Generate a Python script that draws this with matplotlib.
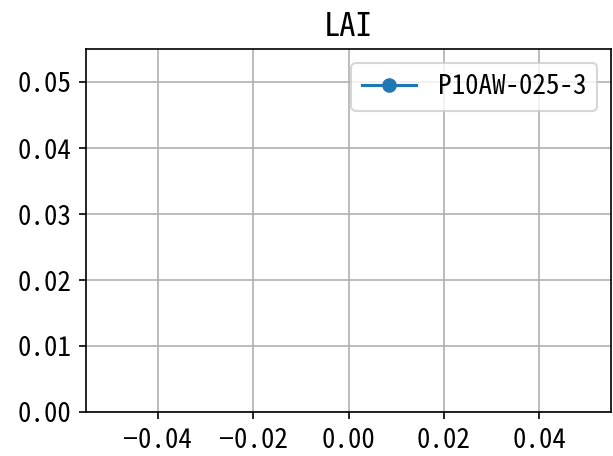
import matplotlib
matplotlib.use('Agg')
import matplotlib.pyplot as plt

plt.rcParams['font.family'] = ['Noto Sans Mono CJK JP', 'DejaVu Sans Mono', 'DejaVu Sans']
plt.rcParams['font.size'] = 13

# no LAI samples for this plot
days = []
lai = []
label = 'P10AW-025-3'

W, H = 613, 456
fig = plt.figure(figsize=(W / 150, H / 150), dpi=150)
ax = fig.add_axes([86 / W, 1 - 412 / H, (611 - 86) / W, (412 - 49) / H])
ax.plot(days, lai, marker='o', label=label)
ax.set_ylim(bottom=0)
ax.set_title('LAI')
ax.grid(True)
ax.legend(loc='upper right')
fig.savefig('out.png', dpi=150)
